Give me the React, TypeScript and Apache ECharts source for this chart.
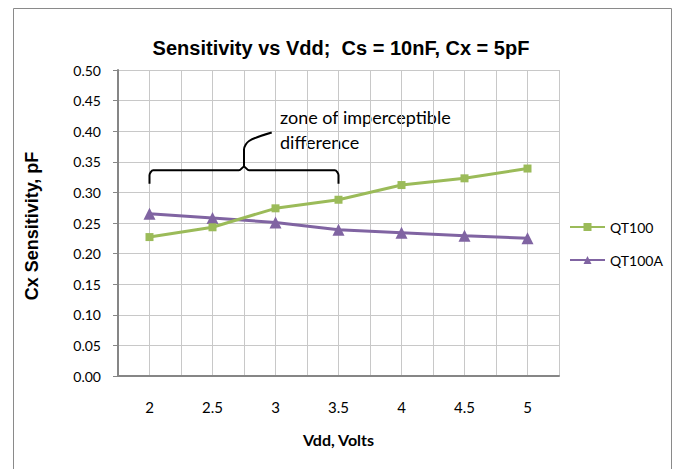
import React, { useEffect, useRef } from "react";
import * as echarts from "echarts";

const xValues = [2, 2.5, 3, 3.5, 4, 4.5, 5];
const qt100 = [0.227, 0.243, 0.274, 0.288, 0.312, 0.323, 0.339];
const qt100a = [0.265, 0.258, 0.251, 0.239, 0.234, 0.229, 0.225];
const yTicks = [0, 0.05, 0.1, 0.15, 0.2, 0.25, 0.3, 0.35, 0.4, 0.45, 0.5];
const braceMain: [number, number][] = [
  [2, 0.314], [2, 0.328], [2.03, 0.336], [2.71, 0.336], [2.75, 0.342],
  [2.79, 0.336], [3.47, 0.336], [3.5, 0.328], [3.5, 0.314],
];
const braceHook: [number, number][] = [
  [2.75, 0.342], [2.75, 0.37], [2.79, 0.384], [2.97, 0.398],
];
const titleText = "Sensitivity vs Vdd;  Cs = 10nF, Cx = 5pF";
const yAxisTitle = "Cx Sensitivity, pF";
const xAxisTitle = "Vdd, Volts";
const noteLines = ["zone of imperceptible", "difference"];

export default function App() {
  const ref = useRef<HTMLDivElement>(null);
  useEffect(() => {
    if (!ref.current) return;
    const chart = echarts.init(ref.current, undefined, { renderer: "svg" });
    const labelFont = "Lato, 'Open Sans', sans-serif";
    chart.setOption({
      animation: false,
      backgroundColor: "#ffffff",
      title: {
        text: titleText,
        left: 336,
        textAlign: "center",
        top: 33,
        textStyle: {
          fontFamily: "'Liberation Sans Narrow', 'Liberation Sans', Arial, sans-serif",
          fontSize: 20,
          fontWeight: "bold",
          color: "#000",
        },
      },
      graphic: [
        {
          type: "rect",
          shape: { x: 13.5, y: 8.5, width: 658, height: 470 },
          style: { fill: "none", stroke: "#8a8a8a", lineWidth: 1 },
          silent: true,
        },
        ...noteLines.map((t, i) => ({
          type: "text",
          x: 280,
          y: 117 + i * 25,
          style: {
            text: t,
            font: `18px ${labelFont}`,
            fill: "#000",
            textVerticalAlign: "middle",
          },
        })),
        {
          type: "text",
          x: 32,
          y: 226,
          rotation: Math.PI / 2,
          style: {
            text: yAxisTitle,
            font: "bold 18px 'Liberation Sans', Arial, sans-serif",
            fill: "#000",
            textAlign: "center",
            textVerticalAlign: "middle",
          },
        },
      ],
      legend: {
        data: ["QT100", "QT100A"],
        orient: "vertical",
        left: 564,
        top: 215,
        itemWidth: 35,
        itemHeight: 10,
        itemGap: 19,
        textStyle: { fontFamily: labelFont, fontSize: 14, color: "#000" },
      },
      grid: { left: 118, right: 125, top: 70, bottom: 93 },
      xAxis: {
        type: "value",
        min: 1.75,
        max: 5.25,
        interval: 0.25,
        name: xAxisTitle,
        nameLocation: "middle",
        nameGap: 55,
        nameTextStyle: { fontFamily: labelFont, fontSize: 16, fontWeight: "bold", color: "#000" },
        axisLine: { show: true, lineStyle: { color: "#868686", width: 2 } },
        axisTick: { show: false },
        axisLabel: {
          margin: 23,
          fontFamily: labelFont,
          fontSize: 15,
          color: "#000",
          formatter: (v: number) =>
            xValues.some((x) => Math.abs(x - v) < 1e-6) ? String(v) : "",
        },
        splitLine: { show: true, lineStyle: { color: "#c8c8c8", width: 1 } },
      },
      yAxis: {
        type: "value",
        min: 0,
        max: 0.5,
        interval: 0.05,
        axisLine: { show: true, lineStyle: { color: "#868686", width: 2 } },
        axisTick: { show: true, length: 5, lineStyle: { color: "#868686" } },
        axisLabel: {
          margin: 17,
          fontFamily: labelFont,
          fontSize: 14,
          color: "#000",
          formatter: (v: number) => {
            const t = yTicks.find((y) => Math.abs(y - v) < 1e-6);
            return (t ?? v).toFixed(2);
          },
        },
        splitLine: { show: true, lineStyle: { color: "#c8c8c8", width: 1 } },
      },
      series: [
        {
          name: "QT100",
          type: "line",
          data: xValues.map((x, i) => [x, qt100[i]]),
          symbol: "rect",
          symbolSize: 8,
          lineStyle: { color: "#9BBB59", width: 3 },
          itemStyle: { color: "#9BBB59" },
          z: 3,
        },
        {
          name: "QT100A",
          type: "line",
          data: xValues.map((x, i) => [x, qt100a[i]]),
          symbol: "triangle",
          symbolSize: 12,
          lineStyle: { color: "#8064A2", width: 3 },
          itemStyle: { color: "#8064A2" },
          z: 2,
        },
        {
          name: "braceMain",
          type: "line",
          data: braceMain,
          symbol: "none",
          smooth: 0.3,
          lineStyle: { color: "#000", width: 2 },
          silent: true,
          z: 4,
        },
        {
          name: "braceHook",
          type: "line",
          data: braceHook,
          symbol: "none",
          smooth: 0.3,
          lineStyle: { color: "#000", width: 2 },
          silent: true,
          z: 4,
        },
      ],
    });
    return () => chart.dispose();
  }, []);
  return <div ref={ref} style={{ width: 684, height: 469, position: "absolute", left: 0, top: 0 }} />;
}
